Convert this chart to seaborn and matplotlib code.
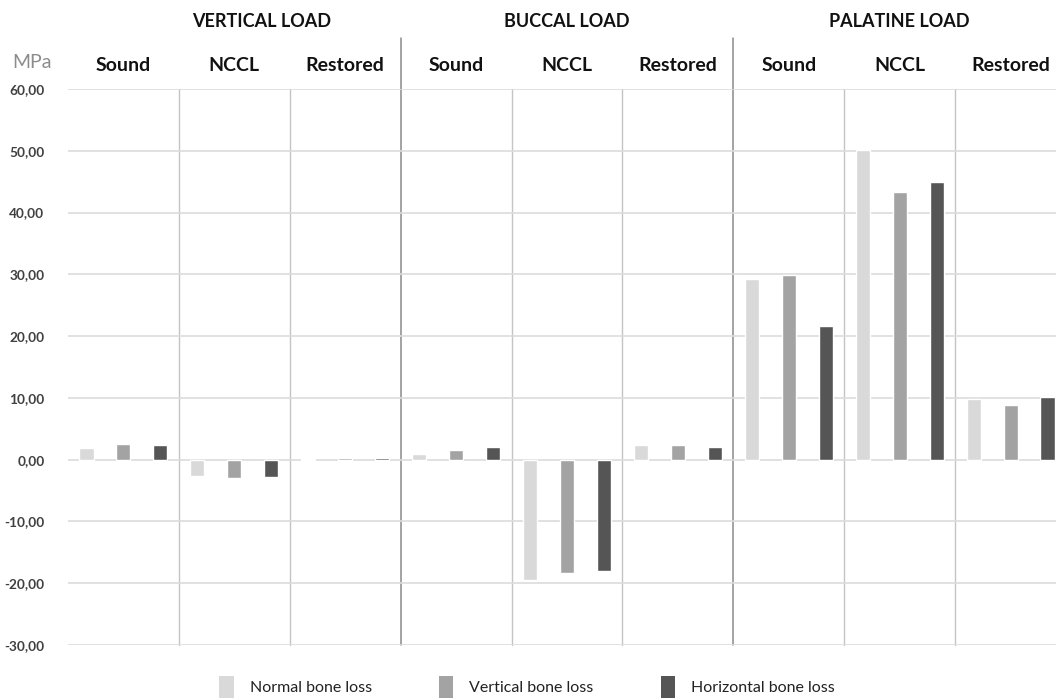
import matplotlib
matplotlib.use("Agg")
import matplotlib.pyplot as plt
from matplotlib.patches import Patch
import numpy as np
import pandas as pd
import seaborn as sns

# data (MPa)
loads = ["VERTICAL LOAD", "BUCCAL LOAD", "PALATINE LOAD"]
conditions = ["Sound", "NCCL", "Restored"]
series = ["Normal bone loss", "Vertical bone loss", "Horizontal bone loss"]

normal_loss = [1.9, -2.6, 0.15, 0.85, -19.4, 2.3, 29.2, 50.1, 9.9]
vertical_loss = [2.5, -2.9, 0.25, 1.5, -18.3, 2.3, 29.9, 43.4, 8.8]
horizontal_loss = [2.3, -2.8, 0.35, 2.1, -18.0, 2.0, 21.6, 44.9, 10.1]

colors = ["#d9d9d9", "#a3a3a3", "#555555"]
y_ticks = [-30, -20, -10, 0, 10, 20, 30, 40, 50, 60]

# long table for seaborn
cats = [f"{l}|{c}" for l in loads for c in conditions]
rows = []
for name, vals in zip(series, [normal_loss, vertical_loss, horizontal_loss]):
    for cat, v in zip(cats, vals):
        rows.append({"cat": cat, "series": name, "value": v})
df = pd.DataFrame(rows)

sns.set_theme(style="white")
plt.rcParams["font.family"] = ["Lato", "DejaVu Sans"]

fig = plt.figure(figsize=(10.56, 6.98), dpi=100)
W, H = 1056, 698
ax = fig.add_axes([68 / W, 53 / H, 998 / W, 556 / H])

sns.barplot(data=df, x="cat", y="value", hue="series", order=cats,
            hue_order=series, palette=colors, width=1.0, gap=0.62,
            saturation=1, legend=False, ax=ax)

ax.set_xlim(-0.5, len(cats) - 0.5)
ax.set_ylim(-30, 60)
ax.set_yticks(y_ticks)
ax.set_yticklabels([f"{t:.2f}".replace(".", ",") for t in y_ticks],
                   fontsize=9.8, fontweight="bold", color="#404040")
ax.tick_params(axis="y", length=0, pad=17)
ax.set_xticks([])
ax.set_xlabel("")
ax.set_ylabel("")
for s in ax.spines.values():
    s.set_visible(False)
ax.set_axisbelow(True)
ax.yaxis.grid(True, color="#dcdcdc", linewidth=1.2)
ax.xaxis.grid(False)

# separators between categories
for k in range(1, len(cats)):
    x = k - 0.5
    if k % 3 == 0:
        ax.plot([x, x], [-30, 68.3], color="#8a8a8a", lw=1.1,
                clip_on=False, zorder=0)
    else:
        ax.plot([x, x], [-30, 60], color="#c4c4c4", lw=1.0,
                clip_on=False, zorder=0)

# condition labels
for i, cat in enumerate(cats):
    ax.text(i, 63.8, cat.split("|")[1], ha="center", va="center",
            fontsize=14, fontweight="bold", color="#111111")

# load headers
header_x = [1.25, 4.0, 7.0]
for hx, name in zip(header_x, loads):
    ax.text(hx, 71.0, name, ha="center", va="center",
            fontsize=13, fontweight="bold", color="#111111")

fig.text(32 / W, 1 - 62 / H, "MPa", ha="center", va="center",
         fontsize=14, color="#8c8c8c")

handles = [Patch(facecolor=c, edgecolor="none") for c in colors]
fig.legend(handles, series, loc="center", bbox_to_anchor=(0.499, 1 - 687 / H),
           ncol=3, frameon=False, fontsize=11.5, handlelength=0.9,
           handleheight=1.7, handletextpad=1.0, columnspacing=4.2,
           labelcolor="#222222")

fig.savefig("out.png", dpi=100)
